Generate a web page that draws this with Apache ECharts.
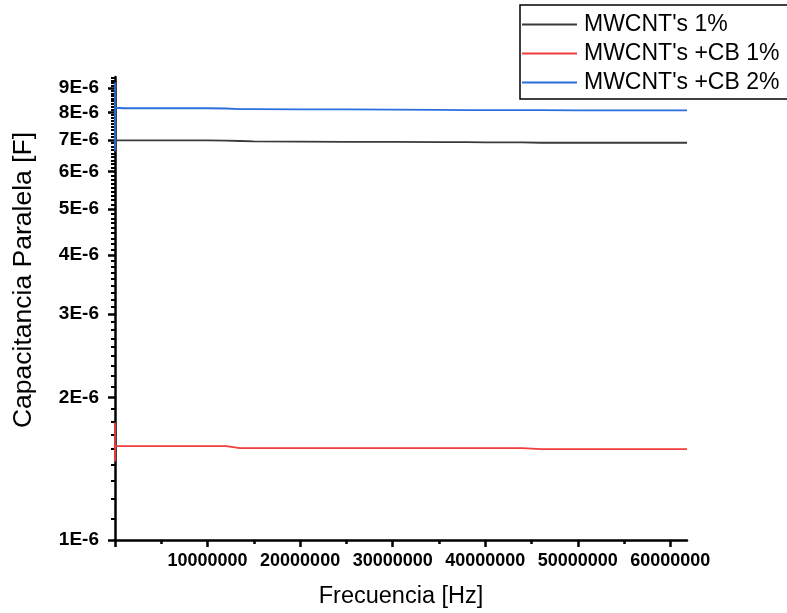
<!DOCTYPE html>
<html>
<head>
<meta charset="utf-8">
<script src="https://cdn.jsdelivr.net/npm/echarts@6/dist/echarts.min.js"></script>
<style>
  html, body { margin: 0; padding: 0; background: #ffffff; }
  #chart { width: 787px; height: 613px; }
</style>
</head>
<body>
<div id="chart"></div>
<script>
// Frequency sweep (Hz) and parallel capacitance (F) of the three samples
const freqHz = [1e2, 1e3, 1e4, 1e5, 1e6, 5e6, 10e6, 12e6, 13.5e6, 15e6, 20e6, 25e6, 30e6, 35e6, 38e6, 40e6, 44e6, 46e6, 50e6, 55e6, 61.8e6];
const capMwcnt1 = [7.25e-6, 6.6e-6, 6.99e-6, 6.98e-6, 6.98e-6, 6.98e-6, 6.98e-6, 6.97e-6, 6.96e-6, 6.95e-6, 6.94e-6, 6.93e-6, 6.93e-6, 6.92e-6, 6.92e-6, 6.91e-6, 6.91e-6, 6.90e-6, 6.90e-6, 6.90e-6, 6.90e-6];
const capMwcntCb1 = [1.77e-6, 1.465e-6, 1.58e-6, 1.579e-6, 1.578e-6, 1.578e-6, 1.578e-6, 1.578e-6, 1.563e-6, 1.563e-6, 1.563e-6, 1.563e-6, 1.563e-6, 1.563e-6, 1.563e-6, 1.563e-6, 1.563e-6, 1.556e-6, 1.556e-6, 1.556e-6, 1.556e-6];
const capMwcntCb2 = [9.25e-6, 6.65e-6, 8.18e-6, 8.17e-6, 8.16e-6, 8.16e-6, 8.16e-6, 8.15e-6, 8.13e-6, 8.13e-6, 8.12e-6, 8.12e-6, 8.11e-6, 8.10e-6, 8.09e-6, 8.09e-6, 8.09e-6, 8.09e-6, 8.08e-6, 8.08e-6, 8.08e-6];

const seriesNames = ["MWCNT's 1%", "MWCNT's +CB 1%", "MWCNT's +CB 2%"];
const seriesColors = ['#3a3a3a', '#f03c3c', '#2a6fdc'];

// Axis ticks
const xMajorTicks = [10000000, 20000000, 30000000, 40000000, 50000000, 60000000];
const xMinorTicks = [5000000, 15000000, 25000000, 35000000, 45000000, 55000000];
const yMajorTicks = [1e-6, 2e-6, 3e-6, 4e-6, 5e-6, 6e-6, 7e-6, 8e-6, 9e-6];
const yMax = 9.5e-6;
const xMax = 61.8e6;

// eight minor ticks between consecutive majors
const yMinorTicks = [];
yMajorTicks.forEach(function (m) {
  for (let k = 1; k <= 8; k++) {
    const v = m + k * 1e-6 / 9;
    if (v < yMax) yMinorTicks.push(v);
  }
});

function pairs(ys) { return freqHz.map(function (f, i) { return [f, ys[i]]; }); }

const chart = echarts.init(document.getElementById('chart'), null, { renderer: 'canvas' });
const FONT = 'Liberation Sans, Arial, sans-serif';

chart.setOption({
  animation: false,
  backgroundColor: '#ffffff',
  grid: { left: 115, top: 77, right: 100, bottom: 73, containLabel: false, outerBoundsMode: 'none' },
  legend: {
    orient: 'vertical',
    left: 520, top: 5,
    padding: [8, 40, 5, 2],
    itemGap: 6,
    itemWidth: 55, itemHeight: 2,
    icon: 'rect',
    borderColor: '#000', borderWidth: 1.5,
    backgroundColor: '#fff',
    textStyle: { fontFamily: FONT, fontSize: 23, color: '#000', padding: [0, 0, 0, 2] },
    data: seriesNames
  },
  xAxis: [{
    type: 'value', min: 0, max: xMax,
    name: 'Frecuencia [Hz]', nameLocation: 'middle', nameGap: 45,
    nameTextStyle: { fontFamily: FONT, fontSize: 23.5, color: '#000' },
    axisLine: { show: true, onZero: false, lineStyle: { color: '#000', width: 2.5 } },
    axisTick: { show: true, inside: false, length: 7, customValues: [0].concat(xMajorTicks), lineStyle: { color: '#000', width: 2.5 } },
    axisLabel: {
      show: true, margin: 12, customValues: xMajorTicks,
      fontFamily: FONT, fontWeight: 'bold', fontSize: 18, color: '#000',
      formatter: function (v) { return String(v); }
    },
    splitLine: { show: false }
  }, {
    type: 'value', min: 0, max: xMax, position: 'bottom',
    axisLine: { show: false },
    axisTick: { show: true, inside: false, length: 4, customValues: xMinorTicks, lineStyle: { color: '#000', width: 2.5 } },
    axisLabel: { show: false },
    splitLine: { show: false }
  }],
  yAxis: [{
    type: 'log', logBase: 10, min: 1e-6, max: yMax,
    name: 'Capacitancia Paralela [F]', nameLocation: 'middle', nameGap: 78,
    nameTextStyle: { fontFamily: FONT, fontSize: 26.5, color: '#000', padding: [0, 0, 0, 57] },
    axisLine: { show: true, onZero: false, lineStyle: { color: '#000', width: 2.5 } },
    axisTick: { show: true, inside: false, length: 7, customValues: yMajorTicks, lineStyle: { color: '#000', width: 2.5 } },
    axisLabel: {
      show: true, margin: 16, customValues: yMajorTicks,
      fontFamily: FONT, fontWeight: 'bold', fontSize: 19, color: '#000',
      formatter: function (v) { return Math.round(v * 1e6) + 'E-6'; }
    },
    splitLine: { show: false }
  }, {
    type: 'log', logBase: 10, min: 1e-6, max: yMax, position: 'left',
    axisLine: { show: false },
    axisTick: { show: true, inside: false, length: 4, customValues: yMinorTicks, lineStyle: { color: '#000', width: 2 } },
    axisLabel: { show: false },
    splitLine: { show: false }
  }],
  series: [0, 1, 2].map(function (i) {
    const ys = [capMwcnt1, capMwcntCb1, capMwcntCb2][i];
    return {
      name: seriesNames[i], type: 'line', xAxisIndex: 0, yAxisIndex: 0,
      data: pairs(ys), showSymbol: false, symbol: 'none',
      lineStyle: { color: seriesColors[i], width: 1.8 },
      itemStyle: { color: seriesColors[i] },
      z: 2 + i
    };
  })
});
</script>
</body>
</html>
